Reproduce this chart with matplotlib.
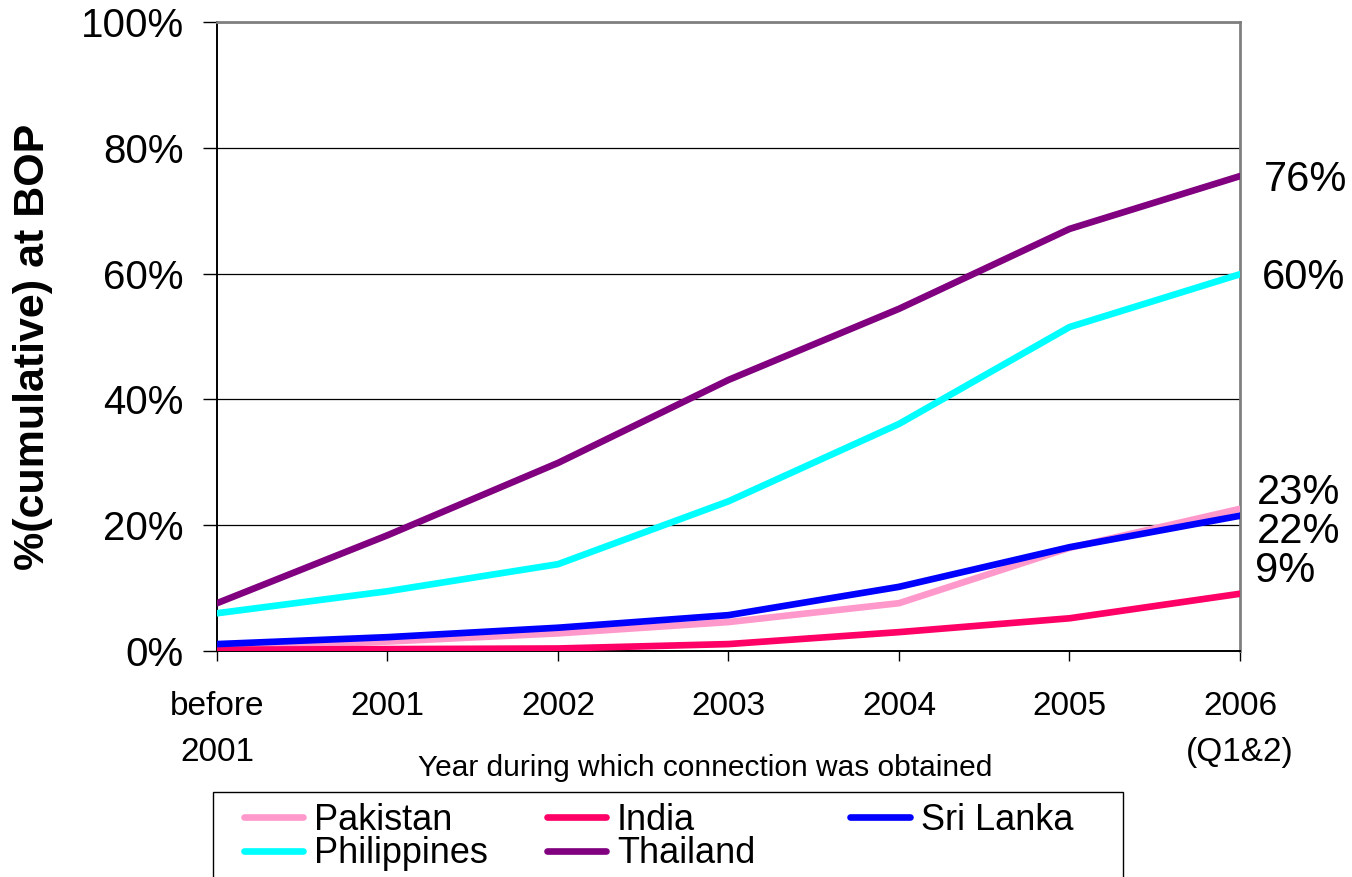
import matplotlib
matplotlib.use("Agg")
import matplotlib.pyplot as plt
from matplotlib.ticker import FixedLocator
from matplotlib.patches import Rectangle

plt.rcParams['font.family'] = ['Liberation Sans', 'DejaVu Sans']

categories = ["before\n2001", "2001", "2002", "2003", "2004", "2005", "2006\n(Q1&2)"]
pakistan = [0.5, 1.5, 2.8, 4.6, 7.6, 16.4, 22.6]
india = [0.2, 0.3, 0.4, 1.1, 3.0, 5.2, 9.1]
sri_lanka = [1.1, 2.2, 3.7, 5.7, 10.2, 16.5, 21.5]
philippines = [6.0, 9.5, 13.8, 23.8, 36.1, 51.5, 59.9]
thailand = [7.6, 18.4, 29.9, 43.1, 54.4, 67.1, 75.5]
yticks = [0, 20, 40, 60, 80, 100]

series = [
    ("Pakistan", pakistan, "#FF99CC"),
    ("India", india, "#FF0066"),
    ("Sri Lanka", sri_lanka, "#0000FF"),
    ("Philippines", philippines, "#00FFFF"),
    ("Thailand", thailand, "#800080"),
]

W, H = 1352, 877
fig = plt.figure(figsize=(W / 100, H / 100), dpi=100)
ax = fig.add_axes([217 / W, 1 - 651 / H, (1240 - 217) / W, (651 - 22) / H])

x = list(range(len(categories)))
handles = {}
for name, vals, color in series:
    h, = ax.plot(x, vals, color=color, lw=4.8, solid_capstyle="round",
                 solid_joinstyle="round", label=name, zorder=3)
    handles[name] = h

ax.set_xlim(0, len(categories) - 1)
ax.set_ylim(0, 100)
ax.yaxis.set_major_locator(FixedLocator(yticks))
ax.set_yticklabels([f"{v}%" for v in yticks], fontsize=29)
ax.set_xticks(x)
ax.set_xticklabels(categories, fontsize=24, linespacing=1.6, va="top")
ax.tick_params(axis="y", length=10, width=1, pad=14, color="black")
ax.tick_params(axis="x", length=7, width=1, pad=22, color="black")

ax.grid(axis="y", color="black", lw=0.9)
ax.set_axisbelow(True)
for side in ("left", "bottom"):
    ax.spines[side].set_color("black")
    ax.spines[side].set_linewidth(1.4)
for side in ("top", "right"):
    ax.spines[side].set_color("#808080")
    ax.spines[side].set_linewidth(2)

ax.set_ylabel("%(cumulative) at BOP", fontsize=31, fontweight="bold")
ax.yaxis.set_label_coords(-0.16, 0.483)
ax.text(0.477, -0.186, "Year during which connection was obtained",
        transform=ax.transAxes, ha="center", va="center", fontsize=21.5)

# end-of-series value labels (text, value, x offset, y offset in points)
end_labels = [("76%", thailand[-1], 17, -2.5), ("60%", philippines[-1], 16, -3),
              ("23%", pakistan[-1], 12, 11.5), ("22%", sri_lanka[-1], 12, -11.7),
              ("9%", india[-1], 11, 16.4)]
for txt, val, dx, dy in end_labels:
    ax.annotate(txt, xy=(x[-1], val), xytext=(dx, dy), textcoords="offset points",
                ha="left", va="center", fontsize=30, annotation_clip=False)

# legend: frame drawn separately so it runs off the bottom edge
fig.patches.append(Rectangle((213 / W, -0.05), (1123 - 213) / W, 0.05 + (H - 792) / H,
                             transform=fig.transFigure, fill=False,
                             edgecolor="black", lw=1.0))
legend_columns = [(["Pakistan", "Philippines"], 243.5),
                  (["India", "Thailand"], 546.5),
                  (["Sri Lanka"], 850.5)]
for names, left in legend_columns:
    leg = fig.legend([handles[n] for n in names], names, loc="upper left",
                     bbox_to_anchor=(left / W, 1 - 802.5 / H), ncol=1, fontsize=26,
                     frameon=False, handlelength=1.66, handletextpad=0.29,
                     borderpad=0, labelspacing=-0.03, borderaxespad=0)

fig.savefig("out.png", dpi=100)
